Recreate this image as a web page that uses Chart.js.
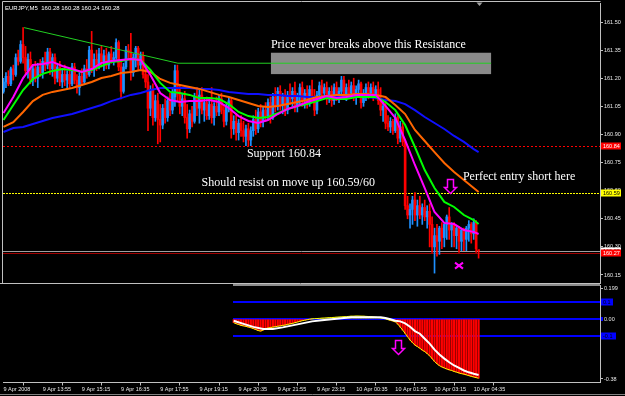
<!DOCTYPE html>
<html>
<head>
<meta charset="utf-8">
<script src="https://cdn.jsdelivr.net/npm/chart.js@4.4.1/dist/chart.umd.min.js"></script>
<style>
html, body { margin: 0; padding: 0; background: #000; }
#wrap { position: relative; width: 625px; height: 396px; background: #000; overflow: hidden; }
canvas { position: absolute; left: 0; }
#priceChart { top: 0; }
#oscChart { top: 284px; }
</style>
</head>
<body>
<div id="wrap">
  <canvas id="priceChart" width="625" height="284"></canvas>
  <canvas id="oscChart" width="625" height="112"></canvas>
</div>
<script>
// EURJPY M5 candles, 4 moving averages, and the oscillator panel under them

const symbolName = 'EURJPY,M5';

const barOpen = [
  161.13,161.18,161.21,161.17,161.25,161.22,161.31,161.29,161.38,161.31,
  161.24,161.30,161.19,161.25,161.20,161.26,161.23,161.29,161.27,161.34,
  161.25,161.31,161.20,161.26,161.18,161.22,161.19,161.22,161.17,161.26,
  161.19,161.15,161.21,161.18,161.25,161.22,161.35,161.26,161.30,161.27,
  161.33,161.29,161.32,161.27,161.33,161.30,161.31,161.39,161.26,161.13,
  161.26,161.35,161.34,161.23,161.31,161.36,161.27,161.32,161.22,161.18,
  161.04,161.14,160.99,161.08,160.98,160.95,161.04,160.99,161.08,161.03,
  161.10,161.24,161.11,161.05,161.09,160.99,160.93,161.01,160.97,161.10,
  161.04,161.11,161.03,161.07,161.00,161.06,160.99,161.05,161.02,161.09,
  161.03,160.97,161.05,161.08,160.93,160.97,160.91,160.96,160.92,160.89,
  160.93,160.87,160.92,160.98,160.93,161.02,160.97,161.03,161.00,161.07,
  160.99,161.10,161.05,161.13,161.06,161.10,161.03,161.11,161.09,161.13,
  161.05,161.10,161.15,161.08,161.12,161.07,161.14,161.10,161.03,161.11,
  161.16,161.12,161.15,161.09,161.13,161.08,161.15,161.11,161.13,161.19,
  161.11,161.15,161.12,161.16,161.11,161.14,161.17,161.07,161.12,161.15,
  161.12,161.15,161.11,161.14,161.08,161.03,161.05,160.96,160.94,160.97,
  160.92,160.99,160.88,160.94,160.86,160.52,160.47,160.50,160.55,160.47,
  160.52,160.47,160.51,160.46,160.49,160.42,160.30,160.36,160.33,160.40,
  160.35,160.42,160.46,160.39,160.42,160.36,160.40,160.33,160.39,160.34,
  160.40,160.42,160.37,160.43,160.28
];
const barHigh = [
  161.20,161.23,161.24,161.26,161.27,161.33,161.35,161.40,161.47,161.37,
  161.33,161.34,161.27,161.29,161.28,161.30,161.31,161.34,161.36,161.36,
  161.33,161.33,161.28,161.29,161.25,161.27,161.24,161.25,161.28,161.28,
  161.22,161.23,161.25,161.27,161.30,161.37,161.45,161.33,161.35,161.36,
  161.37,161.35,161.36,161.34,161.37,161.34,161.41,161.40,161.29,161.28,
  161.37,161.38,161.44,161.33,161.37,161.37,161.34,161.34,161.27,161.22,
  161.16,161.17,161.11,161.12,161.06,161.06,161.09,161.10,161.12,161.14,
  161.27,161.27,161.16,161.12,161.13,161.06,161.03,161.05,161.12,161.15,
  161.14,161.15,161.09,161.10,161.08,161.15,161.07,161.10,161.11,161.12,
  161.06,161.07,161.10,161.09,161.00,161.01,160.98,161.00,160.97,160.95,
  160.96,160.94,161.00,161.03,161.04,161.06,161.05,161.07,161.09,161.10,
  161.12,161.15,161.15,161.16,161.12,161.14,161.13,161.17,161.15,161.18,
  161.12,161.17,161.18,161.14,161.16,161.16,161.19,161.14,161.13,161.18,
  161.19,161.17,161.18,161.15,161.16,161.17,161.18,161.15,161.21,161.21,
  161.17,161.19,161.18,161.20,161.16,161.19,161.18,161.14,161.17,161.18,
  161.17,161.18,161.16,161.18,161.15,161.08,161.09,161.00,160.99,160.98,
  161.01,161.00,160.97,160.96,160.87,160.57,160.53,160.57,160.59,160.55,
  160.57,160.53,160.55,160.52,160.53,160.46,160.40,160.42,160.41,160.43,
  160.43,160.47,160.51,160.43,160.43,160.41,160.41,160.40,160.40,160.41,
  160.44,160.43,160.45,160.44,160.28
];
const barLow = [
  161.12,161.15,161.16,161.16,161.19,161.21,161.27,161.28,161.28,161.22,
  161.20,161.17,161.16,161.18,161.15,161.21,161.20,161.24,161.25,161.22,
  161.21,161.17,161.18,161.16,161.15,161.16,161.14,161.15,161.16,161.17,
  161.12,161.11,161.16,161.17,161.20,161.21,161.23,161.21,161.24,161.25,
  161.26,161.24,161.25,161.25,161.28,161.27,161.30,161.24,161.09,161.12,
  161.25,161.30,161.19,161.21,161.26,161.24,161.25,161.20,161.15,160.92,
  161.00,160.95,160.97,160.85,160.86,160.93,160.96,160.97,161.00,161.01,
  161.05,161.08,161.01,161.00,160.96,160.88,160.91,160.94,160.96,161.00,
  160.96,161.01,160.97,160.98,160.98,160.96,160.95,161.00,161.00,161.01,
  160.94,160.95,161.02,160.88,160.90,160.87,160.87,160.89,160.86,160.84,
  160.84,160.84,160.89,160.90,160.91,160.94,160.94,160.97,160.98,160.96,
  160.98,161.02,161.03,161.03,161.01,161.00,161.01,161.06,161.05,161.02,
  161.02,161.06,161.05,161.04,161.04,161.05,161.07,161.00,161.01,161.08,
  161.09,161.10,161.06,161.07,161.05,161.06,161.08,161.07,161.10,161.09,
  161.08,161.10,161.10,161.08,161.06,161.10,161.04,161.05,161.08,161.09,
  161.10,161.08,161.09,161.06,161.00,160.97,160.93,160.92,160.91,160.90,
  160.91,160.85,160.86,160.84,160.50,160.45,160.40,160.42,160.44,160.41,
  160.45,160.42,160.44,160.40,160.30,160.27,160.16,160.25,160.26,160.29,
  160.30,160.34,160.34,160.30,160.30,160.29,160.27,160.28,160.28,160.28,
  160.33,160.32,160.34,160.27,160.24
];
const barClose = [
  161.18,161.21,161.17,161.25,161.22,161.31,161.29,161.38,161.31,161.24,
  161.30,161.19,161.25,161.20,161.26,161.23,161.29,161.27,161.34,161.25,
  161.31,161.20,161.26,161.18,161.22,161.19,161.22,161.17,161.26,161.19,
  161.15,161.21,161.18,161.25,161.22,161.35,161.26,161.30,161.27,161.33,
  161.29,161.32,161.27,161.33,161.30,161.31,161.39,161.26,161.13,161.26,
  161.35,161.34,161.23,161.31,161.36,161.27,161.32,161.22,161.18,161.04,
  161.14,160.99,161.08,160.98,160.95,161.04,160.99,161.08,161.03,161.12,
  161.24,161.11,161.05,161.09,160.99,160.93,161.01,160.97,161.10,161.04,
  161.11,161.03,161.07,161.00,161.06,160.99,161.05,161.02,161.09,161.03,
  160.97,161.05,161.08,160.93,160.97,160.91,160.96,160.92,160.89,160.93,
  160.87,160.92,160.98,160.93,161.02,160.97,161.03,161.00,161.07,160.99,
  161.10,161.05,161.13,161.06,161.10,161.03,161.11,161.09,161.13,161.05,
  161.10,161.15,161.08,161.12,161.07,161.14,161.10,161.03,161.11,161.16,
  161.12,161.15,161.09,161.13,161.08,161.15,161.11,161.13,161.19,161.11,
  161.15,161.12,161.16,161.11,161.14,161.17,161.07,161.12,161.15,161.12,
  161.15,161.11,161.14,161.08,161.03,161.05,160.96,160.94,160.97,160.92,
  160.99,160.88,160.94,160.86,160.52,160.47,160.50,160.55,160.47,160.52,
  160.47,160.51,160.46,160.49,160.42,160.30,160.36,160.33,160.40,160.35,
  160.42,160.46,160.39,160.42,160.36,160.40,160.33,160.39,160.34,160.40,
  160.42,160.37,160.43,160.29,160.28
];

// moving averages, read every 4th bar
const maIndex = [0,4,8,12,16,20,24,28,32,36,40,44,48,52,56,60,64,68,72,76,80,84,88,92,96,
  100,104,108,112,116,120,124,128,132,136,140,144,148,152,156,160,164,168,172,176,180,184,188,192,194];
const maFast = [161.014,161.100,161.201,161.271,161.276,161.287,161.265,161.249,161.233,161.249,
  161.281,161.292,161.297,161.303,161.297,161.217,161.121,161.084,161.073,161.078,
  161.078,161.084,161.073,161.041,160.998,160.972,160.961,160.977,161.009,161.036,
  161.052,161.073,161.089,161.105,161.094,161.100,161.111,161.111,161.111,161.052,
  160.988,160.870,160.737,160.614,160.486,160.428,160.422,160.390,160.380,160.369];
const maMid = [160.977,161.057,161.137,161.196,161.223,161.239,161.249,161.244,161.233,161.244,
  161.265,161.287,161.292,161.303,161.297,161.244,161.175,161.127,161.121,161.111,
  161.094,161.094,161.089,161.062,161.020,160.998,160.988,160.993,161.014,161.036,
  161.052,161.062,161.078,161.094,161.089,161.089,161.100,161.100,161.100,161.073,
  161.030,160.950,160.833,160.710,160.614,160.540,160.513,160.470,160.443,160.422];
const maSlow = [160.940,160.966,161.020,161.078,161.111,161.127,161.137,161.148,161.164,161.180,
  161.201,161.212,161.228,161.233,161.244,161.233,161.196,161.175,161.164,161.153,
  161.143,161.127,161.111,161.100,161.084,161.068,161.052,161.046,161.052,161.062,
  161.073,161.084,161.100,161.105,161.111,161.111,161.116,161.116,161.111,161.100,
  161.057,161.009,160.924,160.865,160.806,160.748,160.700,160.657,160.614,160.593];
const maLong = [160.913,160.934,160.940,160.956,160.972,160.988,160.998,161.009,161.025,161.041,
  161.057,161.078,161.094,161.111,161.121,161.137,161.148,161.148,161.148,161.148,
  161.143,161.143,161.137,161.127,161.121,161.116,161.116,161.111,161.111,161.105,
  161.105,161.100,161.100,161.100,161.100,161.100,161.100,161.100,161.094,161.084,
  161.078,161.062,161.030,160.993,160.961,160.929,160.892,160.860,160.822,160.806];

// drawn objects
const trendIndex = [8.4, 71.2, 199.1];
const trendPrice = [161.47, 161.28, 161.28];
const resistFrom = 109.2, resistTo = 199.1, resistTop = 161.336, resistBottom = 161.222;
const levelPrices = [160.84, 160.59, 160.28, 160.27];
const noteText = ['Price never breaks above this Resistance', 'Support 160.84',
  'Should resist on move up 160.59/60', 'Perfect entry short here'];
const noteIndex = [109.2, 99.4, 80.9, 187.6];
const notePrice = [161.377, 160.796, 160.641, 160.673];
const arrowIndex = 182.3, arrowPrice = 160.66;
const crossIndex = 186, crossPrice = 160.20;

// axes
const priceTicks = [161.50,161.35,161.20,161.05,160.90,160.75,160.60,160.45,160.30,160.15];
const timeTickIndex = [0,16,32,48,64,80,96,112,128,144,160,176,192];
const timeLabels = ['9 Apr 2008','9 Apr 13:55','9 Apr 15:15','9 Apr 16:35','9 Apr 17:55','9 Apr 19:15',
  '9 Apr 20:35','9 Apr 21:55','9 Apr 23:15','10 Apr 00:35','10 Apr 01:55','10 Apr 03:15','10 Apr 04:35'];

// oscillator, starts at bar 94
const oscStart = 94;
const oscHist = [-0.022,-0.028,-0.033,-0.038,-0.041,-0.044,-0.048,-0.052,-0.057,-0.063,
  -0.069,-0.072,-0.066,-0.057,-0.054,-0.051,-0.048,-0.046,-0.043,-0.041,
  -0.038,-0.036,-0.032,-0.029,-0.026,-0.022,-0.018,-0.014,-0.010,-0.007,
  -0.004,-0.001,0.001,0.002,0.003,0.004,0.005,0.006,0.007,0.008,
  0.009,0.010,0.011,0.012,0.013,0.014,0.014,0.016,0.017,0.017,
  0.018,0.018,0.017,0.017,0.016,0.015,0.014,0.013,0.011,0.009,
  0.007,0.004,0.001,-0.004,-0.008,-0.012,-0.017,-0.030,-0.048,-0.066,
  -0.086,-0.106,-0.126,-0.141,-0.156,-0.165,-0.175,-0.186,-0.195,-0.207,
  -0.220,-0.237,-0.254,-0.268,-0.279,-0.287,-0.293,-0.299,-0.304,-0.308,
  -0.314,-0.318,-0.323,-0.327,-0.330,-0.334,-0.339,-0.343,-0.347,-0.351,-0.354];
const oscSignalIndex = [94,98,102,106,110,114,118,122,126,130,134,138,142,146,150,154,156,158,
  160,162,164,166,168,170,172,174,176,178,180,182,184,186,188,190,192,194];
const oscSignal = [-0.010,-0.029,-0.047,-0.059,-0.060,-0.050,-0.038,-0.026,-0.014,-0.007,-0.001,0.005,
  0.010,0.010,0.011,0.010,0.006,-0.001,-0.010,-0.014,-0.026,-0.046,-0.072,-0.088,
  -0.118,-0.147,-0.183,-0.212,-0.237,-0.259,-0.278,-0.293,-0.308,-0.319,-0.328,-0.335];
const oscLevels = [0.1, 0, -0.1];
const oscLevelLabels = ['0.1', '', '-0.1'];
const oscTicks = [0.18, 0, -0.359];
const oscTickLabels = ['0.199', '0.00', '-0.38'];
const oscArrowIndex = 161.1, oscArrowValue = -0.126;

const X_MIN = -0.204, X_MAX = 243.57;
const axisFont = { family: '"Liberation Sans", Arial, sans-serif', size: 5.5 };
const frameColor = '#c0c0c0';
const upColor = '#1e90ff', downColor = '#ff0000';

const candleColors = barClose.map((c, i) => c > barOpen[i] ? upColor : downColor);

function maLine(vals, color) {
  return {
    type: 'line',
    data: vals.map((v, k) => ({ x: maIndex[k], y: v })),
    borderColor: color, borderWidth: 2, pointRadius: 0, tension: 0, fill: false
  };
}

function downArrow(ctx, cx, top) {
  ctx.beginPath();
  ctx.moveTo(cx - 3, top); ctx.lineTo(cx + 3, top); ctx.lineTo(cx + 3, top + 8);
  ctx.lineTo(cx + 6, top + 8); ctx.lineTo(cx, top + 14); ctx.lineTo(cx - 6, top + 8);
  ctx.lineTo(cx - 3, top + 8); ctx.closePath();
  ctx.strokeStyle = '#ff00ff'; ctx.lineWidth = 1.5; ctx.stroke();
}

function tag(ctx, x, y, w, text, bg, fg) {
  ctx.fillStyle = bg;
  ctx.fillRect(x, Math.round(y) - 3.5, w, 7);
  ctx.fillStyle = fg;
  ctx.font = '5.5px "Liberation Sans", Arial, sans-serif';
  ctx.textAlign = 'left'; ctx.textBaseline = 'middle';
  ctx.fillText(text, x + 2, Math.round(y) + 0.5);
}

const levelStyles = [
  { color: '#ff0000', dash: [2, 2] },
  { color: '#ffff00', dash: [2, 1] },
  { color: '#a0a0a0', dash: [] },
  { color: '#a00000', dash: [] }
];
const tagStyles = [
  { bg: '#ff0000', fg: '#ffffff' },
  { bg: '#ffff00', fg: '#000000' },
  { bg: '#ffffff', fg: '#000000' },
  { bg: '#ff0000', fg: '#ffffff' }
];

const priceDecor = {
  id: 'priceDecor',
  beforeDatasetsDraw(chart) {
    const { ctx, chartArea: a, scales: { x, y } } = chart;
    ctx.save();
    const bx1 = x.getPixelForValue(resistFrom), bx2 = x.getPixelForValue(resistTo);
    const by1 = y.getPixelForValue(resistTop), by2 = y.getPixelForValue(resistBottom);
    ctx.fillStyle = '#8a8a8a';
    ctx.fillRect(bx1, by1, bx2 - bx1, by2 - by1);
    levelPrices.forEach((p, k) => {
      const py = Math.round(y.getPixelForValue(p)) + 0.5;
      ctx.strokeStyle = levelStyles[k].color;
      ctx.setLineDash(levelStyles[k].dash);
      ctx.lineWidth = 1;
      ctx.beginPath(); ctx.moveTo(a.left, py); ctx.lineTo(a.right, py); ctx.stroke();
    });
    ctx.restore();
  },
  afterDatasetsDraw(chart) {
    const { ctx, scales: { x, y } } = chart;
    ctx.save();
    ctx.font = '12px "Liberation Serif", "Times New Roman", serif';
    ctx.fillStyle = '#ffffff';
    ctx.textAlign = 'left'; ctx.textBaseline = 'middle';
    noteText.forEach((t, k) => ctx.fillText(t, x.getPixelForValue(noteIndex[k]), y.getPixelForValue(notePrice[k])));
    downArrow(ctx, Math.round(x.getPixelForValue(arrowIndex)) + 0.5, Math.round(y.getPixelForValue(arrowPrice)) + 0.5);
    const cx = x.getPixelForValue(crossIndex), cy = y.getPixelForValue(crossPrice);
    ctx.strokeStyle = '#ff00ff'; ctx.lineWidth = 2;
    ctx.beginPath();
    ctx.moveTo(cx - 4, cy - 3); ctx.lineTo(cx + 4, cy + 3);
    ctx.moveTo(cx + 4, cy - 3); ctx.lineTo(cx - 4, cy + 3);
    ctx.stroke();
    ctx.restore();
  },
  afterDraw(chart) {
    const { ctx, chartArea: a, scales: { x, y } } = chart;
    ctx.save();
    ctx.strokeStyle = frameColor; ctx.lineWidth = 1;
    ctx.beginPath();
    ctx.moveTo(a.left - 0.5, a.bottom + 0.5); ctx.lineTo(a.left - 0.5, a.top - 1.5); ctx.lineTo(a.right + 0.5, a.top - 1.5);
    ctx.moveTo(0, a.bottom + 0.5); ctx.lineTo(a.right + 1, a.bottom + 0.5);
    ctx.stroke();
    // chart shift marker above last bar
    const sx = Math.round(x.getPixelForValue(barClose.length - 1)) + 0.5;
    ctx.fillStyle = '#a0a0a0';
    ctx.beginPath(); ctx.moveTo(sx - 3, a.top - 0.5); ctx.lineTo(sx + 3, a.top - 0.5); ctx.lineTo(sx, a.top + 3); ctx.closePath(); ctx.fill();
    levelPrices.forEach((p, k) => tag(ctx, a.right + 1, y.getPixelForValue(p), 20, p.toFixed(2), tagStyles[k].bg, tagStyles[k].fg));
    const n = barClose.length - 1;
    ctx.fillStyle = '#ffffff';
    ctx.font = '6px "Liberation Sans", Arial, sans-serif';
    ctx.textAlign = 'left'; ctx.textBaseline = 'middle';
    ctx.fillText(symbolName + '  ' + [barOpen[n], barHigh[n], barLow[n], barClose[n]].map(v => v.toFixed(2)).join(' '), 5, 8);
    ctx.restore();
  }
};

new Chart(document.getElementById('priceChart'), {
  type: 'bar',
  data: {
    datasets: [
      maLine(maFast, '#ff00ff'),
      maLine(maMid, '#00ff00'),
      maLine(maSlow, '#ff6600'),
      maLine(maLong, '#1010ff'),
      {
        type: 'line',
        data: trendIndex.map((v, k) => ({ x: v, y: trendPrice[k] })),
        borderColor: '#22d022', borderWidth: 1, pointRadius: 0, tension: 0
      },
      {
        data: barOpen.map((o, i) => ({ x: i, y: [o, barClose[i]] })),
        backgroundColor: candleColors, borderWidth: 0, barThickness: 2, minBarLength: 1, grouped: false
      },
      {
        data: barHigh.map((h, i) => ({ x: i, y: [barLow[i], h] })),
        backgroundColor: candleColors, borderWidth: 0, barThickness: 1, grouped: false
      }
    ]
  },
  options: {
    responsive: false, animation: false, events: [],
    layout: { padding: { left: 3, top: 3, right: 0, bottom: 1 } },
    plugins: { legend: { display: false }, tooltip: { enabled: false } },
    scales: {
      x: { type: 'linear', min: X_MIN, max: X_MAX, display: false, offset: false },
      y: {
        position: 'right', min: 160.1073, max: 161.6014, beginAtZero: false,
        afterBuildTicks: s => { s.ticks = priceTicks.map(v => ({ value: v })); },
        afterFit: s => { s.width = 25; s.paddingTop = 0; s.paddingBottom = 0; },
        ticks: { color: '#e8e8e8', font: axisFont, padding: 1, callback: v => v.toFixed(2) },
        grid: { drawOnChartArea: false, drawTicks: true, tickLength: 3, color: frameColor },
        border: { display: true, color: frameColor }
      }
    }
  },
  plugins: [priceDecor]
});

const oscDecor = {
  id: 'oscDecor',
  beforeDatasetsDraw(chart) {
    const { ctx, chartArea: a, scales: { x, y } } = chart;
    const x0 = Math.round(x.getPixelForValue(oscStart)) - 1;
    ctx.save();
    ctx.fillStyle = '#8c8c8c';
    ctx.fillRect(x0, 0, a.right - x0, 2);
    ctx.fillStyle = '#0000ff';
    oscLevels.forEach(v => {
      const py = Math.round(y.getPixelForValue(v));
      ctx.fillRect(x0, py - 1, a.right - x0, 2);
    });
    ctx.restore();
  },
  afterDraw(chart) {
    const { ctx, chartArea: a, scales: { x, y } } = chart;
    ctx.save();
    oscLevels.forEach((v, k) => {
      const py = y.getPixelForValue(v);
      if (oscLevelLabels[k]) {
        tag(ctx, a.right + 1, py, oscLevelLabels[k].length * 3 + 3, oscLevelLabels[k], '#0000ff', '#000000');
      } else {
        ctx.fillStyle = '#0000ff';
        ctx.fillRect(a.right + 1, Math.round(py) - 2, 2, 4);
      }
    });
    ctx.strokeStyle = '#808080'; ctx.lineWidth = 1;
    ctx.beginPath(); ctx.moveTo(0, 110.5); ctx.lineTo(625, 110.5); ctx.stroke();
    downArrow(ctx, Math.round(x.getPixelForValue(oscArrowIndex)) + 0.5, Math.round(y.getPixelForValue(oscArrowValue)) + 0.5);
    ctx.restore();
  }
};

new Chart(document.getElementById('oscChart'), {
  type: 'bar',
  data: {
    datasets: [
      {
        type: 'line',
        data: oscSignal.map((v, k) => ({ x: oscSignalIndex[k], y: v })),
        borderColor: '#ffffff', borderWidth: 2, pointRadius: 0, tension: 0
      },
      {
        type: 'line',
        data: oscHist.map((v, k) => ({ x: oscStart + k, y: v })),
        borderColor: '#ffff00', borderWidth: 1, pointRadius: 0, tension: 0
      },
      {
        data: oscHist.map((v, k) => ({ x: oscStart + k, y: v })),
        backgroundColor: oscHist.map(v => v < 0 ? '#ff0000' : '#808000'),
        borderWidth: 0, barThickness: 1.5, grouped: false
      }
    ]
  },
  options: {
    responsive: false, animation: false, events: [],
    layout: { padding: { left: 3, top: 1.8, right: 0, bottom: 0 } },
    plugins: { legend: { display: false }, tooltip: { enabled: false } },
    scales: {
      x: {
        type: 'linear', min: X_MIN, max: X_MAX, offset: false, position: 'bottom',
        afterBuildTicks: s => { s.ticks = timeTickIndex.map(v => ({ value: v })); },
        afterFit: s => { s.height = 13.5; s.paddingLeft = 0; s.paddingRight = 0; },
        ticks: {
          autoSkip: false, maxRotation: 0, minRotation: 0, align: 'start', padding: 1,
          color: '#e8e8e8', font: axisFont, callback: (v, k) => timeLabels[k]
        },
        grid: { drawOnChartArea: false, drawTicks: true, tickLength: 3, color: frameColor },
        border: { display: true, color: frameColor }
      },
      y: {
        position: 'right', min: -0.38, max: 0.199, beginAtZero: false,
        afterBuildTicks: s => { s.ticks = oscTicks.map(v => ({ value: v })); },
        afterFit: s => { s.width = 25; s.paddingTop = 0; s.paddingBottom = 0; },
        ticks: { color: '#e8e8e8', font: axisFont, padding: 1, callback: (v, k) => oscTickLabels[k] },
        grid: { drawOnChartArea: false, drawTicks: true, tickLength: 3, color: frameColor },
        border: { display: true, color: frameColor }
      }
    }
  },
  plugins: [oscDecor]
});
</script>
</body>
</html>
